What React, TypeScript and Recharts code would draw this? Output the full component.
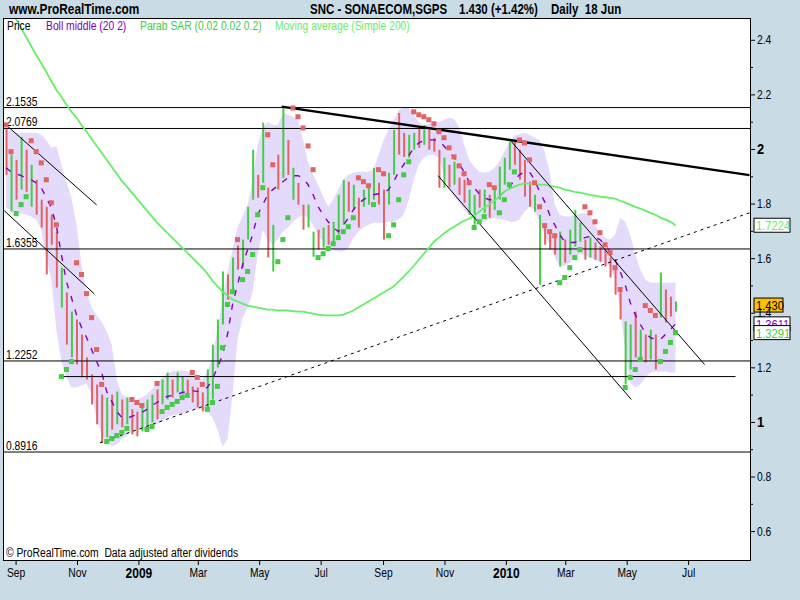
import React from "react";
import {
  ComposedChart,
  XAxis,
  YAxis,
  Bar,
  Cell,
  Area,
  Line,
  Scatter,
  ReferenceLine,
  CartesianGrid,
} from "recharts";

const FONT = "'Liberation Sans', Arial, sans-serif";
const NARROW = 0.86;
const PAGE_BG = "#c9dce6";
const RED = "#e06464";
const GREEN = "#44cc44";
const PURPLE = "#8000c0";
const MA_GREEN = "#66ee66";
const BAND = "#e4dafb";

// days since 1 Sep 2008
const days = [
  -10, -5, 0, 5, 10, 15, 20, 25, 30, 35,
  40, 45, 50, 55, 60, 65, 70, 75, 80, 85,
  90, 95, 100, 105, 110, 115, 120, 125, 130, 135,
  140, 145, 150, 155, 160, 165, 170, 175, 180, 185,
  190, 195, 200, 205, 210, 215, 220, 225, 230, 235,
  240, 245, 250, 255, 260, 265, 270, 275, 280, 285,
  290, 295, 300, 305, 310, 315, 320, 325, 330, 335,
  340, 345, 350, 355, 360, 365, 370, 375, 380, 385,
  390, 395, 400, 405, 410, 415, 420, 425, 430, 435,
  440, 445, 450, 455, 460, 465, 470, 475, 480, 485,
  490, 495, 500, 505, 510, 515, 520, 525, 530, 535,
  540, 545, 550, 555, 560, 565, 570, 575, 580, 585,
  590, 595, 600, 605, 610, 615, 620, 625, 630, 635,
  640, 645, 650, 655,
];

const highs = [
  2.079, 1.981, 1.962, 2.046, 1.999, 1.944, 1.889, 1.816, 1.79, 1.761,
  1.699, 1.567, 1.476, 1.406, 1.377, 1.322, 1.238, 1.176, 1.139, 1.102,
  1.091, 1.102, 1.113, 1.084, 1.091, 1.048, 1.04, 1.055, 1.084, 1.102,
  1.121, 1.157, 1.183, 1.157, 1.183, 1.168, 1.157, 1.132, 1.128, 1.11,
  1.194, 1.285, 1.377, 1.553, 1.542, 1.604, 1.648, 1.67, 1.79, 1.999,
  1.907, 2.098, 1.86, 1.724, 1.981, 2.156, 2.035, 1.933, 1.878, 1.798,
  1.798, 1.699, 1.706, 1.714, 1.724, 1.735, 1.834, 1.889, 1.882, 1.871,
  1.823, 1.853, 1.86, 1.933, 1.878, 1.853, 1.915, 2.072, 2.134, 2.061,
  2.054, 2.061, 2.083, 2.09, 2.072, 2.043, 1.999, 1.97, 1.944, 1.955,
  1.897, 1.889, 1.853, 1.834, 1.853, 1.853, 1.834, 1.853, 1.937, 1.97,
  2.028, 2.035, 1.999, 1.962, 1.882, 1.834, 1.761, 1.714, 1.692, 1.677,
  1.699, 1.67, 1.706, 1.779, 1.732, 1.67, 1.677, 1.659, 1.644, 1.633,
  1.604, 1.56, 1.479, 1.37, 1.359, 1.406, 1.34, 1.322, 1.34, 1.322,
  1.549, 1.487, 1.461, 1.443,
];

const lows = [
  1.907, 1.772, 1.816, 1.853, 1.845, 1.79, 1.761, 1.714, 1.542, 1.651,
  1.494, 1.421, 1.285, 1.238, 1.212, 1.165, 1.157, 1.066, 0.993, 0.927,
  0.945, 0.974, 0.993, 0.982, 0.993, 0.956, 0.949, 0.967, 0.985, 1.0,
  1.011, 1.066, 1.084, 1.091, 1.11, 1.102, 1.106, 1.073, 1.055, 1.04,
  1.055, 1.084, 1.201, 1.359, 1.45, 1.487, 1.56, 1.567, 1.67, 1.816,
  1.823, 1.878, 1.604, 1.553, 1.853, 1.896, 1.907, 1.816, 1.798, 1.706,
  1.714, 1.607, 1.633, 1.64, 1.651, 1.659, 1.688, 1.724, 1.772, 1.779,
  1.714, 1.79, 1.798, 1.816, 1.798, 1.67, 1.798, 1.907, 1.981, 1.973,
  1.97, 1.999, 2.006, 2.017, 1.999, 1.992, 1.86, 1.86, 1.86, 1.871,
  1.834, 1.805, 1.761, 1.724, 1.787, 1.768, 1.75, 1.779, 1.816, 1.871,
  1.926, 1.944, 1.889, 1.827, 1.79, 1.772, 1.505, 1.651, 1.633, 1.615,
  1.571, 1.585, 1.615, 1.644, 1.662, 1.596, 1.604, 1.596, 1.589, 1.571,
  1.531, 1.468, 1.377, 1.139, 1.194, 1.238, 1.238, 1.22, 1.231, 1.194,
  1.384, 1.366, 1.388, 1.406,
];

// 1 = up day (green bar), 0 = down day (red bar)
const upDays = [
  0, 1, 0, 1, 0, 1, 0, 0, 0, 0,
  0, 1, 0, 1, 0, 0, 0, 0, 0, 0,
  1, 0, 1, 0, 1, 0, 0, 1, 1, 1,
  0, 1, 1, 0, 1, 1, 0, 0, 0, 0,
  1, 1, 1, 1, 0, 1, 0, 1, 1, 1,
  0, 1, 0, 1, 0, 1, 0, 1, 0, 0,
  1, 1, 0, 1, 0, 1, 1, 1, 0, 1,
  0, 1, 1, 1, 0, 0, 1, 1, 0, 0,
  1, 1, 0, 1, 0, 0, 0, 1, 0, 1,
  0, 0, 1, 1, 0, 1, 0, 1, 1, 1,
  1, 0, 0, 0, 0, 1, 1, 0, 0, 0,
  1, 0, 1, 1, 1, 0, 1, 0, 0, 0,
  0, 0, 0, 1, 1, 0, 1, 0, 1, 0,
  1, 0, 0, 1,
];

// Parabolic SAR values
const sarValues = [
  2.09, 1.992, 1.765, 1.798, 1.827, 2.032, 1.992, 1.951, 1.889, 1.805,
  1.724, 1.168, 1.194, 1.223, 1.585, 1.542, 1.472, 1.384, 1.267, 1.139,
  0.93, 0.941, 0.952, 0.963, 0.978, 1.084, 1.073, 1.062, 0.974, 0.985,
  1.143, 1.04, 1.055, 1.066, 1.077, 1.091, 1.099, 1.183, 1.165, 1.139,
  1.048, 1.073, 1.132, 1.274, 1.432, 1.479, 1.67, 1.523, 1.553, 1.615,
  1.761, 1.86, 2.054, 1.944, 1.589, 1.67, 1.75, 2.152, 2.12, 2.079,
  2.013, 1.926, 1.604, 1.618, 1.637, 1.655, 1.677, 1.699, 1.717, 1.75,
  1.896, 1.882, 1.867, 1.798, 1.926, 1.911, 1.684, 1.724, 1.816, 1.907,
  1.955, 2.138, 2.127, 2.12, 2.109, 2.094, 2.065, 2.043, 2.006, 1.973,
  1.94, 1.911, 1.878, 1.714, 1.735, 1.754, 1.871, 1.86, 1.768, 1.816,
  1.871, 1.918, 2.035, 2.024, 1.962, 1.878, 1.79, 1.721, 1.699, 1.684,
  1.512, 1.531, 1.567, 1.604, 1.633, 1.79, 1.768, 1.735, 1.695, 1.651,
  1.622, 1.567, 1.487, 1.128, 1.165, 1.194, 1.231, 1.428, 1.41, 1.392,
  1.223, 1.26, 1.293, 1.329,
];

// 1 = SAR above price (red), 0 = below price (green)
const sarAbove = [
  1, 1, 0, 0, 0, 1, 1, 1, 1, 1,
  1, 0, 0, 0, 1, 1, 1, 1, 1, 1,
  0, 0, 0, 0, 0, 1, 1, 1, 0, 0,
  1, 0, 0, 0, 0, 0, 0, 1, 1, 1,
  0, 0, 0, 0, 0, 0, 1, 0, 0, 0,
  0, 0, 1, 1, 0, 0, 0, 1, 1, 1,
  1, 1, 0, 0, 0, 0, 0, 0, 0, 0,
  1, 1, 1, 0, 1, 1, 0, 0, 0, 0,
  0, 1, 1, 1, 1, 1, 1, 1, 1, 1,
  1, 1, 1, 0, 0, 0, 1, 1, 0, 0,
  0, 0, 1, 1, 1, 1, 1, 1, 1, 1,
  0, 0, 0, 0, 0, 1, 1, 1, 1, 1,
  1, 1, 1, 0, 0, 0, 0, 1, 1, 1,
  0, 0, 0, 0,
];

const ma200 = [
  2.529, 2.504, 2.478, 2.445, 2.412, 2.379, 2.346, 2.317, 2.284, 2.251,
  2.218, 2.193, 2.164, 2.138, 2.116, 2.09, 2.065, 2.039, 2.013, 1.988,
  1.962, 1.937, 1.911, 1.885, 1.864, 1.842, 1.82, 1.798, 1.776, 1.754,
  1.732, 1.714, 1.695, 1.677, 1.659, 1.64, 1.622, 1.604, 1.585, 1.567,
  1.545, 1.52, 1.498, 1.479, 1.465, 1.45, 1.443, 1.435, 1.428, 1.424,
  1.421, 1.417, 1.413, 1.413, 1.41, 1.41, 1.41, 1.408, 1.406, 1.406,
  1.402, 1.399, 1.395, 1.393, 1.392, 1.392, 1.392, 1.395, 1.402, 1.41,
  1.421, 1.432, 1.443, 1.454, 1.465, 1.476, 1.487, 1.498, 1.516, 1.534,
  1.553, 1.574, 1.596, 1.618, 1.64, 1.662, 1.677, 1.692, 1.706, 1.717,
  1.728, 1.739, 1.746, 1.757, 1.772, 1.787, 1.798, 1.812, 1.827, 1.845,
  1.856, 1.864, 1.871, 1.875, 1.875, 1.875, 1.871, 1.871, 1.867, 1.864,
  1.86, 1.853, 1.849, 1.845, 1.842, 1.838, 1.834, 1.831, 1.827, 1.825,
  1.823, 1.82, 1.812, 1.805, 1.798, 1.79, 1.783, 1.776, 1.768, 1.761,
  1.75, 1.743, 1.735, 1.7224,
];

const bollUpper = [
  2.079, 2.068, 2.061, 2.061, 2.061, 2.061, 2.061, 2.054, 2.035, 2.006,
  2.013, 1.944, 1.882, 1.823, 1.724, 1.578, 1.479, 1.421, 1.392, 1.37,
  1.333, 1.285, 1.157, 1.102, 1.091, 1.084, 1.084, 1.091, 1.102, 1.121,
  1.143, 1.165, 1.179, 1.187, 1.19, 1.19, 1.187, 1.179, 1.165, 1.157,
  1.187, 1.241, 1.34, 1.45, 1.553, 1.633, 1.714, 1.754, 1.798, 1.889,
  2.017, 2.079, 2.101, 2.09, 2.09, 2.134, 2.127, 2.12, 2.109, 2.035,
  1.955, 1.907, 1.871, 1.827, 1.79, 1.816, 1.853, 1.889, 1.907, 1.915,
  1.918, 1.918, 1.918, 1.926, 1.981, 2.035, 2.072, 2.109, 2.145, 2.153,
  2.153, 2.127, 2.101, 2.087, 2.094, 2.101, 2.101, 2.109, 2.116, 2.112,
  2.083, 2.017, 1.962, 1.937, 1.918, 1.915, 1.918, 1.933, 1.955, 1.992,
  2.024, 2.05, 2.057, 2.061, 2.054, 2.043, 2.035, 1.992, 1.918, 1.798,
  1.761, 1.754, 1.754, 1.757, 1.765, 1.768, 1.761, 1.724, 1.688, 1.677,
  1.67, 1.688, 1.75, 1.735, 1.688, 1.615, 1.56, 1.523, 1.512, 1.512,
  1.512, 1.512, 1.512, 1.512,
];

const bollLower = [
  1.787, 1.776, 1.768, 1.765, 1.761, 1.754, 1.743, 1.706, 1.604, 1.523,
  1.34, 1.223, 1.165, 1.128, 1.128, 1.135, 1.143, 1.102, 1.011, 0.956,
  0.927, 0.912, 0.92, 0.938, 0.952, 0.967, 0.974, 0.974, 0.974, 0.982,
  0.993, 1.004, 1.018, 1.026, 1.029, 1.033, 1.04, 1.048, 1.048, 1.048,
  1.04, 1.018, 0.974, 0.912, 0.938, 1.102, 1.304, 1.384, 1.421, 1.479,
  1.615, 1.706, 1.67, 1.651, 1.67, 1.699, 1.714, 1.735, 1.75, 1.761,
  1.75, 1.724, 1.688, 1.662, 1.64, 1.633, 1.626, 1.626, 1.64, 1.677,
  1.699, 1.714, 1.724, 1.732, 1.732, 1.732, 1.735, 1.735, 1.743, 1.761,
  1.816, 1.889, 1.944, 1.97, 1.981, 1.981, 1.97, 1.907, 1.86, 1.827,
  1.805, 1.779, 1.761, 1.743, 1.732, 1.735, 1.743, 1.75, 1.743, 1.743,
  1.735, 1.735, 1.743, 1.772, 1.79, 1.779, 1.735, 1.688, 1.651, 1.604,
  1.574, 1.574, 1.585, 1.604, 1.618, 1.611, 1.604, 1.596, 1.589, 1.585,
  1.567, 1.523, 1.413, 1.267, 1.146, 1.128, 1.139, 1.165, 1.183, 1.187,
  1.187, 1.187, 1.183, 1.183,
];

const bollMiddle = [
  1.933, 1.918, 1.911, 1.904, 1.896, 1.889, 1.878, 1.86, 1.823, 1.787,
  1.721, 1.615, 1.516, 1.457, 1.395, 1.348, 1.311, 1.267, 1.223, 1.183,
  1.113, 1.077, 1.04, 1.018, 1.015, 1.022, 1.029, 1.037, 1.048, 1.062,
  1.073, 1.084, 1.095, 1.099, 1.102, 1.11, 1.113, 1.117, 1.113, 1.121,
  1.128, 1.157, 1.201, 1.245, 1.322, 1.432, 1.505, 1.578, 1.633, 1.688,
  1.761, 1.798, 1.834, 1.853, 1.867, 1.882, 1.896, 1.904, 1.904, 1.896,
  1.871, 1.834, 1.79, 1.761, 1.735, 1.714, 1.699, 1.721, 1.75, 1.779,
  1.801, 1.816, 1.827, 1.834, 1.838, 1.842, 1.853, 1.882, 1.918, 1.944,
  1.977, 2.006, 2.024, 2.032, 2.035, 2.035, 2.032, 2.013, 1.992, 1.97,
  1.948, 1.918, 1.882, 1.86, 1.838, 1.823, 1.816, 1.816, 1.827, 1.845,
  1.86, 1.889, 1.907, 1.918, 1.918, 1.889, 1.845, 1.809, 1.761, 1.724,
  1.688, 1.662, 1.659, 1.659, 1.67, 1.677, 1.681, 1.677, 1.67, 1.651,
  1.626, 1.596, 1.553, 1.505, 1.439, 1.395, 1.359, 1.329, 1.311, 1.304,
  1.304, 1.322, 1.34, 1.3611,
];

const monthTicks = [0, 61, 122, 181, 242, 303, 365, 426, 487, 546, 607, 668];
const monthLabels = ["Sep", "Nov", "2009", "Mar", "May", "Jul", "Sep", "Nov", "2010", "Mar", "May", "Jul"];

const priceTicks = [0.6, 0.7, 0.8, 0.9, 1.0, 1.1, 1.2, 1.3, 1.4, 1.5, 1.6, 1.7, 1.8, 1.9, 2.0, 2.1, 2.2, 2.3, 2.4];

const levelValues = [2.1535, 2.0769, 1.6355, 1.2252, 0.8916];
const levelLabels = ["2.1535", "2.0769", "1.6355", "1.2252", "0.8916"];

// trend lines: [startDay, startPrice, endDay, endPrice]
const thinTrends = [
  [-10, 2.09, 80, 1.797],
  [-11.8, 1.776, 77.7, 1.471],
  [419.2, 1.904, 611.1, 1.084],
  [492, 2.029, 683.9, 1.212],
  [43.7, 1.168, 714.6, 1.168],
];
const thickTrend = [263.7, 2.157, 728.5, 1.906];
const dashedTrend = [83.4, 0.925, 728.5, 1.768];

const lastClose = 1.43;
const lastBollMiddle = 1.3611;
const lastSar = 1.3291;
const lastMa = 1.7224;

const rows = days.map((day, i) => ({
  day,
  hl: [lows[i], highs[i]],
  up: upDays[i] === 1,
  band: [bollLower[i], bollUpper[i]],
  mid: bollMiddle[i],
  ma: ma200[i],
}));
const sarPoints = days.map((day, i) => ({ day, sar: sarValues[i], above: sarAbove[i] === 1 }));
const sarRed = sarPoints.filter((p) => p.above);
const sarGreen = sarPoints.filter((p) => !p.above);

const square = (color: string) => (props: any) => {
  const { cx, cy } = props;
  if (cx == null || cy == null || isNaN(cx) || isNaN(cy)) return <g />;
  return <rect x={cx - 2.5} y={cy - 2.5} width={5} height={5} fill={color} />;
};

const NarrowText = (p: {
  x: number;
  y: number;
  children: React.ReactNode;
  size?: number;
  bold?: boolean;
  anchor?: "start" | "middle" | "end";
  fill?: string;
  scale?: number;
}) => (
  <text
    transform={`translate(${p.x},${p.y}) scale(${p.scale ?? NARROW},1)`}
    x={0}
    y={0}
    textAnchor={p.anchor ?? "start"}
    fontFamily={FONT}
    fontSize={p.size ?? 12}
    fontWeight={p.bold ? "bold" : "normal"}
    fill={p.fill ?? "#000"}
  >
    {p.children}
  </text>
);

const XTick = (props: any) => {
  const { x, y, payload } = props;
  const idx = monthTicks.indexOf(payload.value);
  const label = monthLabels[idx] ?? "";
  const isYear = /^\d{4}$/.test(label);
  return (
    <NarrowText x={x} y={y + (isYear ? 11 : 10)} anchor="middle" size={isYear ? 15 : 12} bold={isYear} scale={isYear ? 0.8 : NARROW}>
      {label}
    </NarrowText>
  );
};

const YTick = (props: any) => {
  const { x, y, payload } = props;
  const v: number = payload.value;
  const tenth = Math.round(v * 10);
  const major = tenth % 2 === 0;
  const isInt = tenth % 10 === 0;
  const label = isInt ? String(tenth / 10) : (tenth / 10).toFixed(1);
  return (
    <g>
      <line x1={x} x2={x + (major ? 5 : 3)} y1={y} y2={y} stroke="#000" strokeWidth={1} />
      {major && (
        <NarrowText x={x + 7} y={y + (isInt ? 5 : 4)} size={isInt ? 15 : 12} bold={isInt}>
          {label}
        </NarrowText>
      )}
    </g>
  );
};

const LevelLabel = (props: any) => {
  const { viewBox, text } = props;
  if (!viewBox) return null;
  return (
    <NarrowText x={viewBox.x + 2} y={viewBox.y - 2} size={12}>
      {text}
    </NarrowText>
  );
};

const ValueBox = (props: any) => {
  const { viewBox, text, color, bg, boxWidth } = props;
  if (!viewBox) return null;
  const x = viewBox.x + viewBox.width + 4;
  const y = viewBox.y;
  return (
    <g>
      <rect x={x} y={y - 7} width={boxWidth} height={14} fill={bg} stroke="#000" strokeWidth={1} />
      <NarrowText x={x + 2} y={y + 5} size={13} fill={color}>
        {text}
      </NarrowText>
    </g>
  );
};

const htmlText = (left: number, top: number, size: number, color: string, bold: boolean, scale: number): React.CSSProperties => ({
  position: "absolute",
  left,
  top,
  fontFamily: FONT,
  fontSize: size,
  fontWeight: bold ? "bold" : "normal",
  color,
  whiteSpace: "nowrap",
  lineHeight: "14px",
  transform: `scaleX(${scale})`,
  transformOrigin: "0 0",
});

export default function App() {
  return (
    <div
      style={{
        position: "absolute",
        left: 0,
        top: 0,
        width: 800,
        height: 600,
        background: PAGE_BG,
        overflow: "hidden",
      }}
    >
      <div style={htmlText(9, 2, 15, "#000", true, 0.79)}>www.ProRealTime.com</div>
      <div style={htmlText(310, 2, 14, "#000", true, 0.82)}>SNC - SONAECOM,SGPS</div>
      <div style={htmlText(459, 2, 14, "#000", true, 0.82)}>1.430 (+1.42%)</div>
      <div style={htmlText(551, 2, 14, "#000", true, 0.82)}>Daily&nbsp; 18 Jun</div>

      <div style={{ position: "absolute", left: 0, top: 0 }}>
        <ComposedChart
          width={800}
          height={600}
          data={rows}
          margin={{ top: 19, right: 0, bottom: 0, left: 4 }}
        >
          <CartesianGrid horizontal={false} vertical={false} fill="#ffffff" />
          <XAxis
            type="number"
            dataKey="day"
            domain={[-12, 729]}
            allowDataOverflow
            ticks={monthTicks}
            interval={0}
            height={40}
            tickSize={5}
            tickMargin={2}
            axisLine={false}
            tickLine={{ stroke: "#000" }}
            tick={<XTick />}
          />
          <YAxis
            orientation="right"
            type="number"
            domain={[0.496, 2.478]}
            allowDataOverflow
            ticks={priceTicks}
            interval={0}
            width={50}
            tickSize={0}
            tickMargin={0}
            axisLine={false}
            tickLine={false}
            tick={<YTick />}
          />
          <Area
            dataKey="band"
            type="linear"
            stroke="none"
            fill={BAND}
            fillOpacity={1}
            isAnimationActive={false}
            dot={false}
            activeDot={false}
          />
          {levelValues.map((v, i) => (
            <ReferenceLine
              key={"lvl" + i}
              y={v}
              stroke="#000"
              strokeWidth={1}
              label={<LevelLabel text={levelLabels[i]} />}
            />
          ))}
          <Bar dataKey="hl" barSize={2} isAnimationActive={false}>
            {rows.map((r, i) => (
              <Cell key={i} fill={r.up ? GREEN : RED} />
            ))}
          </Bar>
          <Line
            dataKey="mid"
            type="linear"
            stroke={PURPLE}
            strokeWidth={1.4}
            strokeDasharray="6 8"
            dot={false}
            activeDot={false}
            isAnimationActive={false}
          />
          <Line
            dataKey="ma"
            type="linear"
            stroke={MA_GREEN}
            strokeWidth={1.8}
            dot={false}
            activeDot={false}
            isAnimationActive={false}
          />
          {thinTrends.map((t, i) => (
            <ReferenceLine
              key={"tr" + i}
              segment={[
                { x: t[0], y: t[1] },
                { x: t[2], y: t[3] },
              ]}
              stroke="#000"
              strokeWidth={1}
            />
          ))}
          <ReferenceLine
            segment={[
              { x: thickTrend[0], y: thickTrend[1] },
              { x: thickTrend[2], y: thickTrend[3] },
            ]}
            stroke="#000"
            strokeWidth={2.5}
          />
          <ReferenceLine
            segment={[
              { x: dashedTrend[0], y: dashedTrend[1] },
              { x: dashedTrend[2], y: dashedTrend[3] },
            ]}
            stroke="#000"
            strokeWidth={1}
            strokeDasharray="3 4"
          />
          <Scatter data={sarRed} dataKey="sar" shape={square(RED)} isAnimationActive={false} />
          <Scatter data={sarGreen} dataKey="sar" shape={square(GREEN)} isAnimationActive={false} />
          <ReferenceLine
            y={lastMa}
            stroke="none"
            strokeOpacity={0}
            label={<ValueBox text="1.7224" color={MA_GREEN} bg="#ffffff" boxWidth={36} />}
          />
          <ReferenceLine
            y={lastClose}
            stroke="none"
            strokeOpacity={0}
            label={<ValueBox text="1.430" color="#000" bg="#ffc000" boxWidth={29} />}
          />
          <ReferenceLine
            y={lastBollMiddle}
            stroke="none"
            strokeOpacity={0}
            label={<ValueBox text="1.3611" color={PURPLE} bg="#ffffff" boxWidth={36} />}
          />
          <ReferenceLine
            y={lastSar}
            stroke="none"
            strokeOpacity={0}
            label={<ValueBox text="1.3291" color={GREEN} bg="#ffffff" boxWidth={36} />}
          />
        </ComposedChart>
      </div>

      <div
        style={{
          position: "absolute",
          left: 3,
          top: 18,
          width: 748,
          height: 543,
          border: "1px solid #000",
          boxSizing: "border-box",
          pointerEvents: "none",
        }}
      />
      <div style={htmlText(7, 19, 12, "#000", false, NARROW)}>Price</div>
      <div style={htmlText(46, 19, 12, PURPLE, false, NARROW)}>Boll middle (20 2)</div>
      <div style={htmlText(140, 19, 12, GREEN, false, NARROW)}>Parab SAR (0.02 0.02 0.2)</div>
      <div style={htmlText(275, 19, 12, MA_GREEN, false, NARROW)}>Moving average (Simple 200)</div>
      <div style={htmlText(6, 546, 12, "#000", false, NARROW)}>© ProRealTime.com&nbsp; Data adjusted after dividends</div>
    </div>
  );
}
